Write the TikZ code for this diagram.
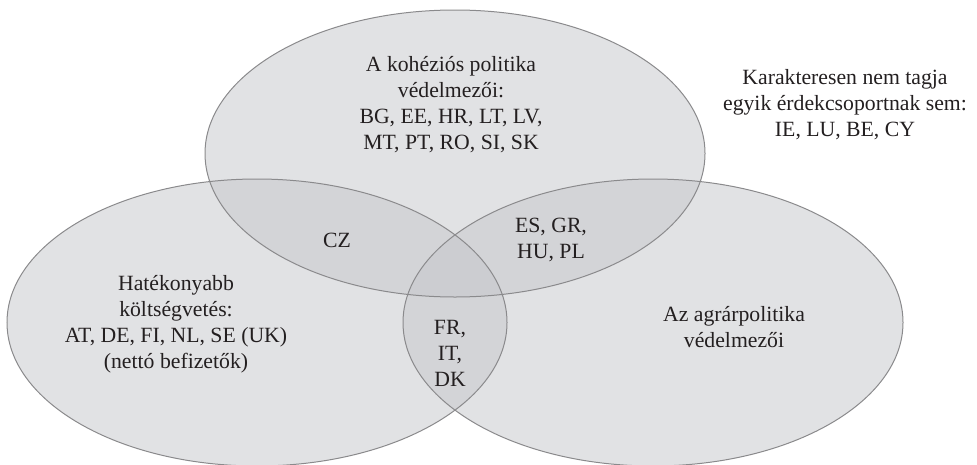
\documentclass[tikz,border=0pt]{standalone}
\usepackage{fontspec}
\setmainfont{Liberation Serif}
\definecolor{venngray}{RGB}{198,199,203}
\definecolor{venndraw}{RGB}{138,138,140}
\definecolor{venntext}{RGB}{35,31,32}
\begin{document}
\begin{tikzpicture}[x=0.75pt,y=-0.75pt,
    setfill/.style={fill=venngray,fill opacity=0.52},
    setline/.style={draw=venndraw,line width=0.75pt},
    label/.style={align=center,text=venntext,inner sep=0pt,
      font=\fontsize{16.3}{19.5}\selectfont}]
  \useasboundingbox (0,0) rectangle (977,464);
  \coordinate (top) at (455,153.5);
  \coordinate (left) at (257,322.5);
  \coordinate (right) at (653,322.5);
  \begin{scope}
    \clip (0,0) rectangle (977,464);
    \foreach \c in {top,left,right}
      \fill[setfill] (\c) ellipse [x radius=250, y radius=143.5];
    \foreach \c in {top,left,right}
      \draw[setline] (\c) ellipse [x radius=250, y radius=143.5];
  \end{scope}
  \node[label] (kohezio) at (451,105)
    {A kohéziós politika\\védelmezői:\\BG, EE, HR, LT, LV,\\MT, PT, RO, SI, SK};
  \node[label] (kivul) at (845,105)
    {Karakteresen nem tagja\\egyik érdekcsoportnak sem:\\IE, LU, BE, CY};
  \node[label] (cz) at (337,240) {CZ};
  \node[label] (esgr) at (551,240) {ES, GR,\\HU, PL};
  \node[label] (frit) at (450,353) {FR,\\IT,\\DK};
  \node[label] (koltseg) at (176,324)
    {Hatékonyabb\\költségvetés:\\AT, DE, FI, NL, SE (UK)\\(nettó befizetők)};
  \node[label] (agrar) at (734,327) {Az agrárpolitika\\védelmezői};
\end{tikzpicture}
\end{document}
